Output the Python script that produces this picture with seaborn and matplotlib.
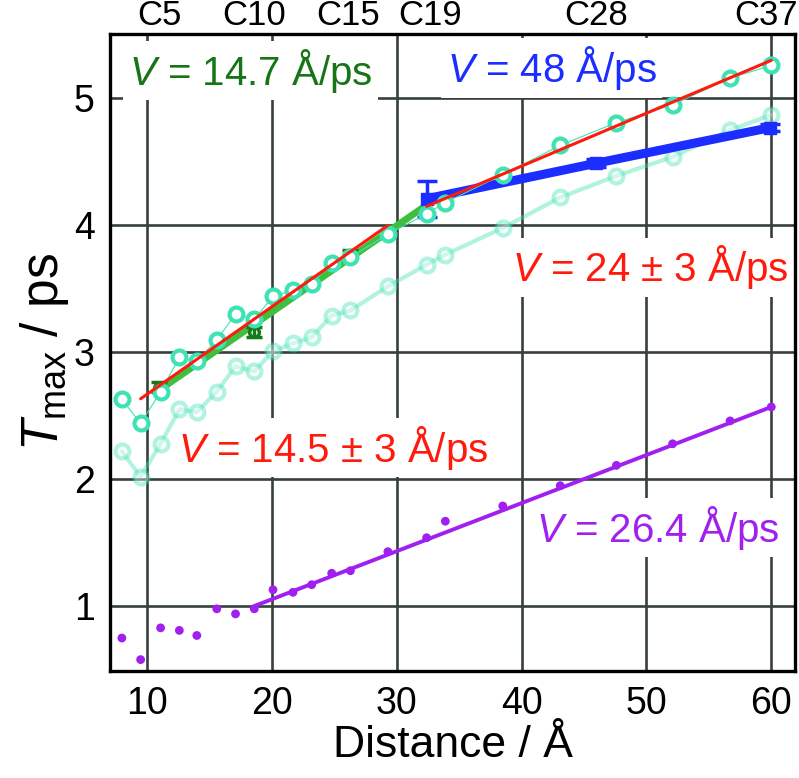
import numpy as np
import pandas as pd
import seaborn as sns
import matplotlib
matplotlib.use("Agg")
import matplotlib.pyplot as plt

# distance of each carbon position (Å)
dist = [8.0, 9.5, 11.1, 12.6, 14.0, 15.6, 17.1, 18.6, 20.1, 21.7, 23.2, 24.8,
        26.3, 29.3, 32.4, 33.9, 38.5, 43.1, 47.6, 52.1, 56.7, 60.0]
# Tmax (ps) for the three simulated series
t_upper = [2.63, 2.44, 2.69, 2.96, 2.93, 3.10, 3.30, 3.26, 3.44, 3.49, 3.54,
           3.70, 3.75, 3.93, 4.09, 4.18, 4.40, 4.63, 4.81, 4.95, 5.16, 5.26]
t_lower = [2.22, 2.02, 2.28, 2.55, 2.53, 2.69, 2.89, 2.85, 3.01, 3.07, 3.12,
           3.29, 3.33, 3.52, 3.69, 3.77, 3.98, 4.22, 4.39, 4.54, 4.75, 4.87]
t_purple = [0.75, 0.58, 0.83, 0.81, 0.77, 0.98, 0.94, 0.98, 1.13, 1.11, 1.17,
            1.26, 1.28, 1.43, 1.54, 1.67, 1.79, 1.95, 2.11, 2.28, 2.46, 2.57]

# experimental points with error bars
green_x = [11.0, 18.6, 26.3]
green_y = [2.72, 3.16, 3.77]
green_lo = [0.03, 0.04, 0.03]
green_hi = [0.05, 0.04, 0.04]

blue_x = [32.4, 46.0, 59.9]
blue_y = [4.21, 4.49, 4.77]
blue_err = [0.14, 0.03, 0.03]

# linear fits: x range, velocity (Å/ps), Tmax at end of range
fit_x0 = [11.0, 9.5, 32.4, 18.6]
fit_x1 = [32.4, 29.3, 60.0, 60.0]
fit_v = [14.7, 14.5, 24.0, 26.4]
fit_t1 = [4.16, 4.00, 5.30, 2.57]
fit_col = ['#3fbf3f', '#ff1a0d', '#ff1a0d', '#a020f0']
fit_lw = [5.0, 2.2, 2.2, 2.8]

top_pos = [11.0, 18.6, 26.1, 32.7, 46.0, 59.6]
top_labels = ['C5', 'C10', 'C15', 'C19', 'C28', 'C37']

AQUA = '#3fe3b3'
GRID = '#36403f'

sns.set_style("white")
plt.rcParams['font.family'] = ['Liberation Sans', 'DejaVu Sans']
plt.rcParams['mathtext.fontset'] = 'custom'
plt.rcParams['mathtext.rm'] = 'Liberation Sans'
plt.rcParams['mathtext.it'] = 'Liberation Sans:italic'
plt.rcParams['mathtext.bf'] = 'Liberation Sans:bold'
plt.rcParams['text.color'] = 'black'
plt.rcParams['axes.labelcolor'] = 'black'
plt.rcParams['xtick.color'] = 'black'
plt.rcParams['ytick.color'] = 'black'

fig = plt.figure(figsize=(7.99, 7.78), dpi=100)
ax = fig.add_axes([0.1377, 0.1375, 0.8573, 0.8192])

df = pd.DataFrame({'dist': dist, 'upper': t_upper, 'lower': t_lower, 'purple': t_purple})

# pale lower series
sns.lineplot(data=df, x='dist', y='lower', ax=ax, color=AQUA, alpha=0.4, lw=3,
             marker='o', ms=10, mfc='white', mec=AQUA, mew=3, zorder=2)
# green fit
for i in [0]:
    xs = [fit_x0[i], fit_x1[i]]
    ys = [fit_t1[i] - (fit_x1[i] - fit_x0[i]) / fit_v[i], fit_t1[i]]
    sns.lineplot(x=xs, y=ys, ax=ax, color=fit_col[i], lw=fit_lw[i], zorder=3)
ax.errorbar(green_x, green_y, yerr=[green_lo, green_hi], fmt='o', ms=7, mfc='none',
            mec='#167a16', mew=2.5, ecolor='#167a16', elinewidth=2.5, capsize=6,
            capthick=2.5, zorder=3)
# blue experimental
sns.lineplot(x=blue_x, y=blue_y, ax=ax, color='#1c2dff', lw=6.5, zorder=3)
ax.errorbar(blue_x, blue_y, yerr=blue_err, fmt='s', ms=8, color='#1c2dff',
            elinewidth=2.5, capsize=7, capthick=2.5, zorder=3)
# upper series
sns.lineplot(data=df, x='dist', y='upper', ax=ax, color=AQUA, lw=0.8,
             marker='o', ms=10, mfc='white', mec=AQUA, mew=3, zorder=4)
# purple dots
sns.scatterplot(data=df, x='dist', y='purple', ax=ax, color='#a020f0', s=40,
                edgecolor='none', zorder=4)
# remaining fits
for i in [1, 2, 3]:
    xs = [fit_x0[i], fit_x1[i]]
    ys = [fit_t1[i] - (fit_x1[i] - fit_x0[i]) / fit_v[i], fit_t1[i]]
    sns.lineplot(x=xs, y=ys, ax=ax, color=fit_col[i], lw=fit_lw[i], zorder=5)

# labels sit on white boxes that break the grid but stay under the data
box = dict(facecolor='white', edgecolor='none', pad=4)
fs = 29
ax.text(18.3, 5.22, '$V$ = 14.7 Å/ps', color='#177517', fontsize=fs,
        ha='center', va='center', bbox=box, zorder=1.5)
ax.text(42.4, 5.24, '$V$ = 48 Å/ps', color='#1c2dff', fontsize=fs,
        ha='center', va='center', bbox=box, zorder=1.5)
ax.text(50.3, 3.67, '$V$ = 24 ± 3 Å/ps', color='#ff1a0d', fontsize=fs,
        ha='center', va='center', bbox=box, zorder=1.5)
ax.text(24.9, 2.25, '$V$ = 14.5 ± 3 Å/ps', color='#ff1a0d', fontsize=fs,
        ha='center', va='center', bbox=box, zorder=1.5)
ax.text(50.9, 1.62, '$V$ = 26.4 Å/ps', color='#a020f0', fontsize=fs,
        ha='center', va='center', bbox=box, zorder=1.5)

ax.set_xlim(7.05, 61.9)
ax.set_ylim(0.49, 5.51)
ax.set_xticks([10, 20, 30, 40, 50, 60])
ax.set_yticks([1, 2, 3, 4, 5])
ax.grid(True, color=GRID, lw=1.9)
ax.set_axisbelow(True)
for s in ax.spines.values():
    s.set_color('black')
    s.set_linewidth(2.4)
ax.tick_params(axis='both', direction='out', length=7, width=2.4, labelsize=27,
               color='black', labelcolor='black', pad=4)
ax.set_xlabel('Distance / Å', fontsize=32, labelpad=2)
ax.set_ylabel('$T_{\\mathrm{max}}$ / ps', fontsize=37, labelpad=2)

sec = ax.secondary_xaxis('top')
sec.set_xticks(top_pos, labels=top_labels)
sec.tick_params(length=0, labelsize=25, pad=1, labelcolor='black')
sec.spines['top'].set_visible(False)

fig.savefig('out.png', dpi=100)
